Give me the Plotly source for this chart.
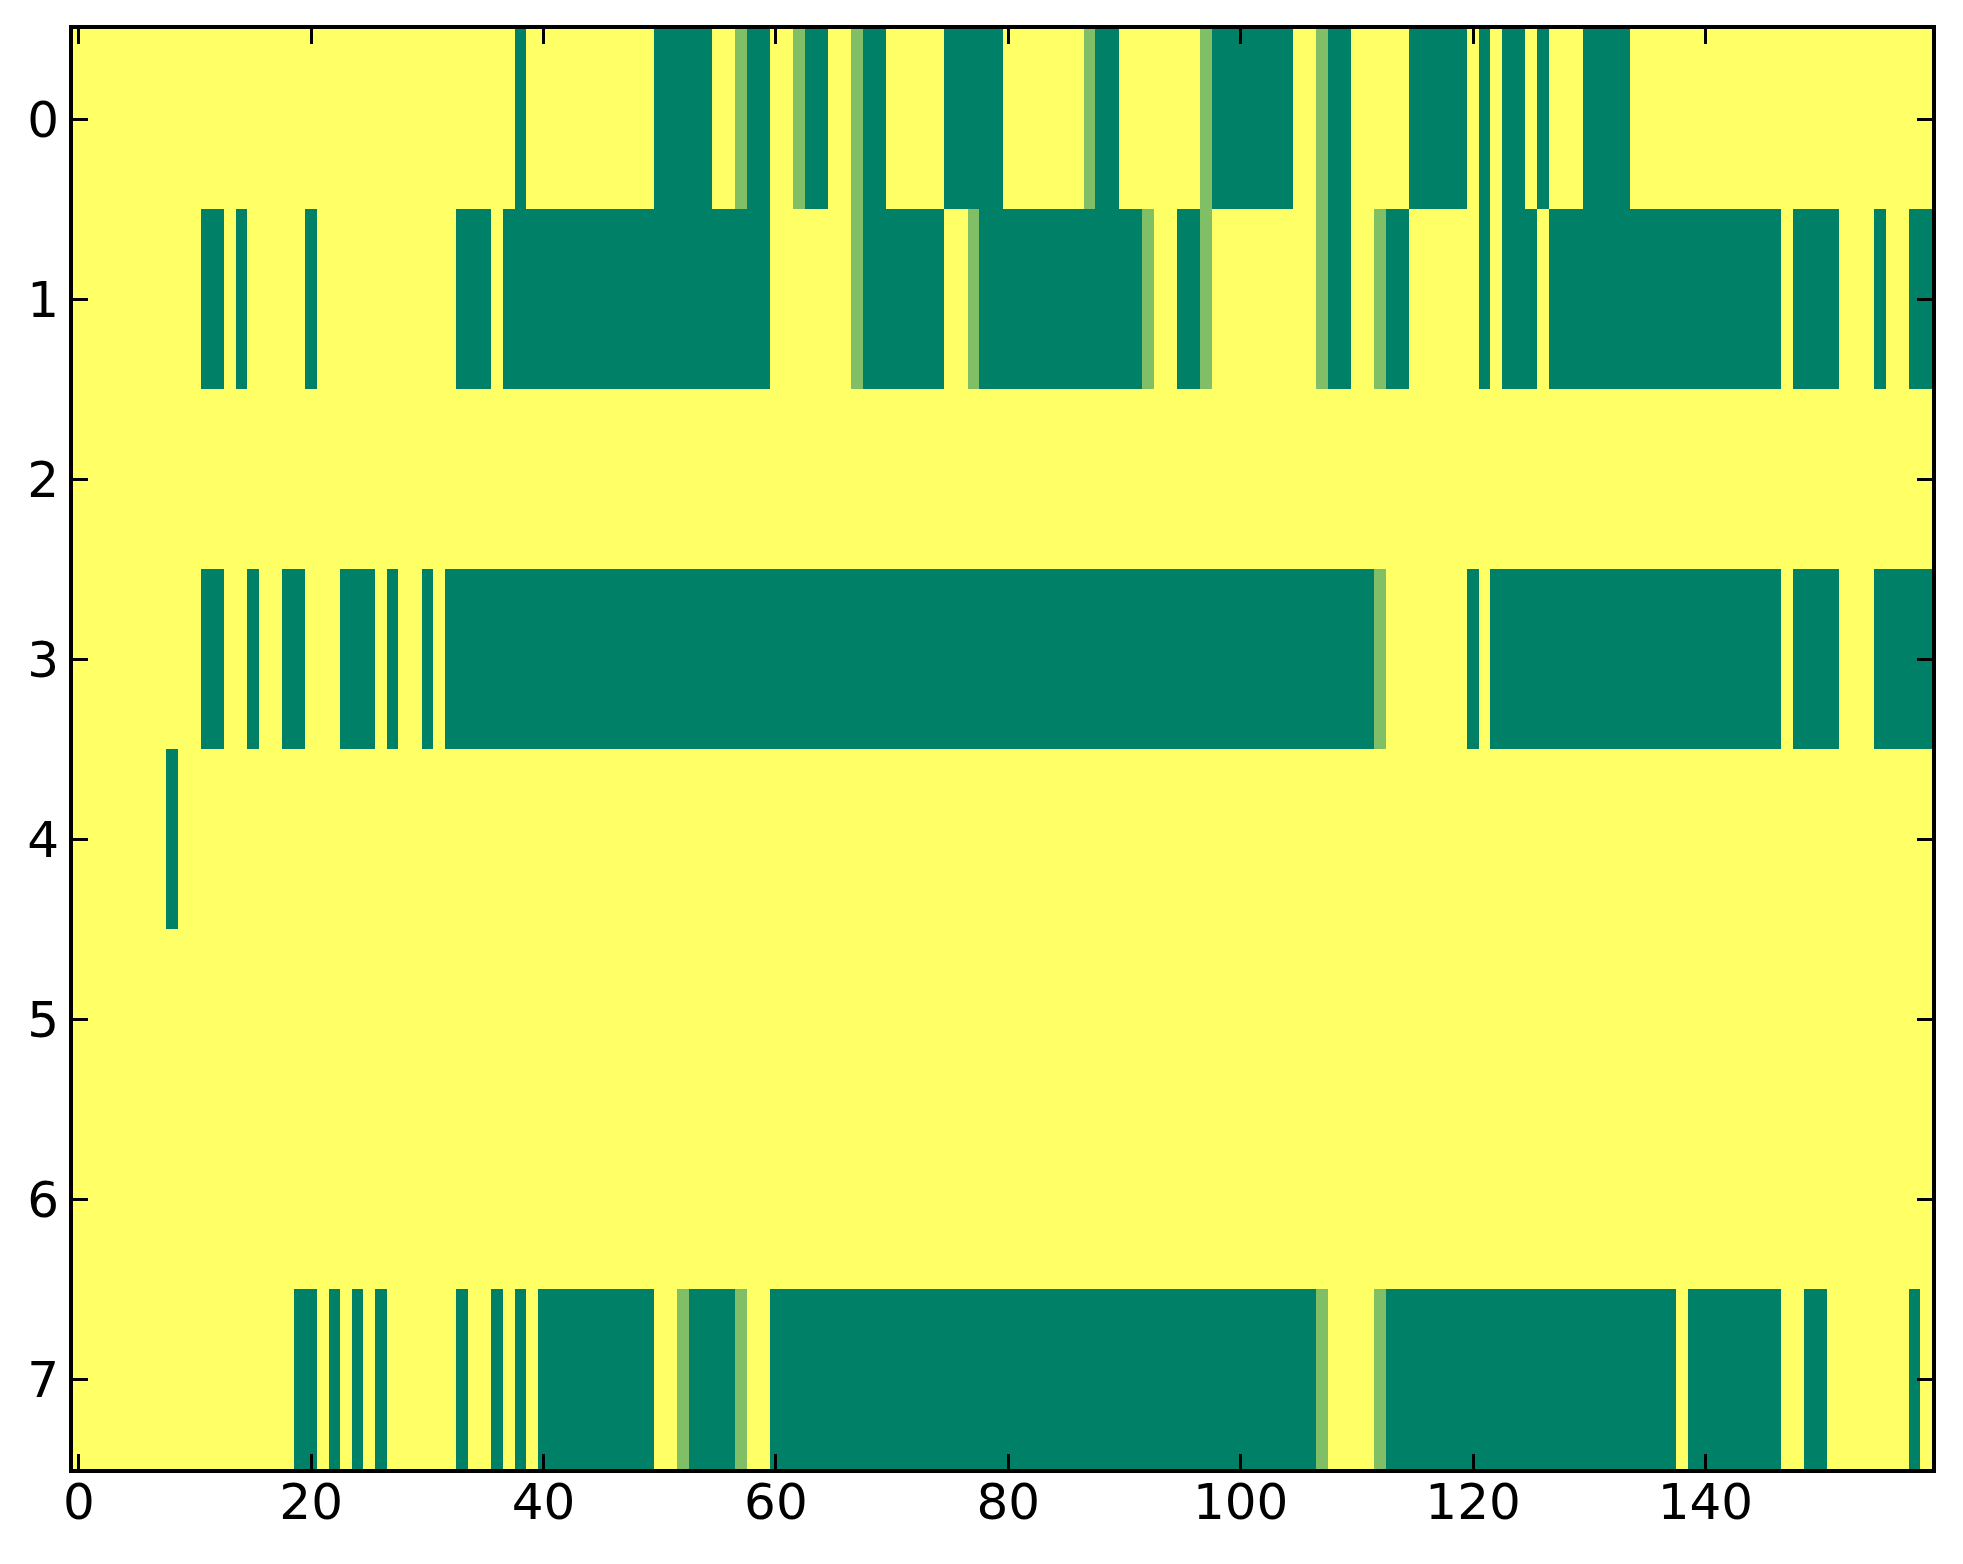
import numpy as np
import plotly.graph_objects as go

# heat map cells: spans of columns (inclusive) with value 1,
# single columns with value 0.5, everything else 0
n_cols = 160
row_labels = [0, 1, 2, 3, 4, 5, 6, 7]
x_ticks = [0, 20, 40, 60, 80, 100, 120, 140]

row0_full = [(38, 38), (50, 54), (58, 59), (63, 64), (68, 69), (75, 79), (88, 89),
             (98, 104), (108, 109), (115, 119), (121, 121), (123, 124), (126, 126),
             (130, 133)]
row0_half = [57, 62, 67, 87, 97, 107]

row1_full = [(11, 12), (14, 14), (20, 20), (33, 35), (37, 59), (68, 74), (78, 91),
             (95, 96), (108, 109), (113, 114), (121, 121), (123, 125), (127, 146),
             (148, 151), (155, 155), (158, 159)]
row1_half = [67, 77, 92, 97, 107, 112]

row2_full = []
row2_half = []

row3_full = [(11, 12), (15, 15), (18, 19), (23, 25), (27, 27), (30, 30), (32, 111),
             (120, 120), (122, 146), (148, 151), (155, 159)]
row3_half = [112]

row4_full = [(8, 8)]
row4_half = []

row5_full = []
row5_half = []

row6_full = []
row6_half = []

row7_full = [(19, 20), (22, 22), (24, 24), (26, 26), (33, 33), (36, 36), (38, 38),
             (40, 49), (53, 56), (60, 106), (113, 137), (139, 146), (149, 150),
             (158, 158)]
row7_half = [52, 57, 107, 112]

rows_full = [row0_full, row1_full, row2_full, row3_full,
             row4_full, row5_full, row6_full, row7_full]
rows_half = [row0_half, row1_half, row2_half, row3_half,
             row4_half, row5_half, row6_half, row7_half]


def build_grid():
    z = np.zeros((len(row_labels), n_cols))
    for r, spans in enumerate(rows_full):
        for a, b in spans:
            z[r, a:b + 1] = 1.0
    for r, cols in enumerate(rows_half):
        for c in cols:
            z[r, c] = 0.5
    return z


z = build_grid()

# matplotlib summer_r
colorscale = [[0.0, "#ffff66"], [0.5, "#80bf66"], [1.0, "#008066"]]

fig = go.Figure(
    go.Heatmap(
        z=z,
        x=list(range(n_cols)),
        y=row_labels,
        colorscale=colorscale,
        zmin=0,
        zmax=1,
        showscale=False,
        hoverinfo="skip",
    )
)

axis_style = dict(
    showgrid=False,
    zeroline=False,
    showline=True,
    linecolor="black",
    linewidth=4,
    mirror="ticks",
    ticks="inside",
    ticklen=15,
    tickwidth=3,
    tickcolor="black",
    automargin=False,
    tickfont=dict(family="DejaVu Sans", size=50, color="black"),
)

fig.update_xaxes(range=[-0.5, n_cols - 0.5], tickvals=x_ticks,
                 ticklabelstandoff=-14, **axis_style)
fig.update_yaxes(range=[len(row_labels) - 0.5, -0.5], tickvals=row_labels, **axis_style)

# page body has an 8px margin, so the figure is kept 16px smaller than the window
fig.update_layout(
    width=1947,
    height=1548,
    margin=dict(l=65, r=23, t=21, b=87),
    paper_bgcolor="white",
    plot_bgcolor="white",
    font=dict(family="DejaVu Sans", color="black"),
)

fig.write_html("out.html")
